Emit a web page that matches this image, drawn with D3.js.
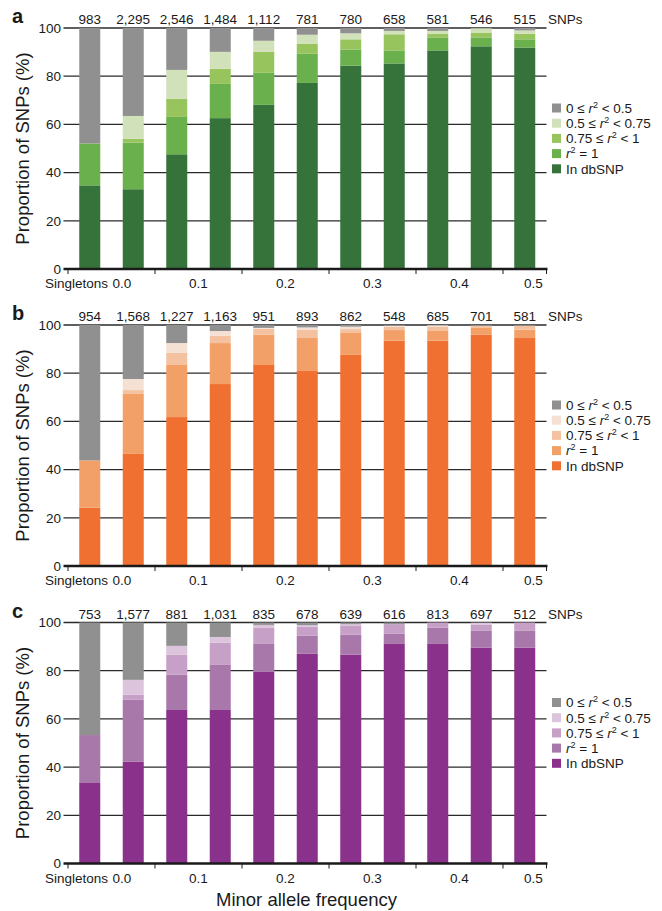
<!DOCTYPE html>
<html>
<head>
<meta charset="utf-8">
<script src="https://cdn.jsdelivr.net/npm/d3@7"></script>
<style>
  html, body { margin: 0; padding: 0; background: #fff; }
  text { font-family: "Liberation Sans", Arial, Helvetica, sans-serif; fill: #1a1a1a; }
</style>
</head>
<body>
<svg id="chart" width="662" height="911"></svg>
<script>
// ---------------- data ----------------
const categories = ["Singletons", "0.00-0.05", "0.05-0.10", "0.10-0.15", "0.15-0.20", "0.20-0.25",
                    "0.25-0.30", "0.30-0.35", "0.35-0.40", "0.40-0.45", "0.45-0.50"];
const seriesKeys = ["dbsnp", "r1", "r75", "r50", "r0"]; // bottom -> top
const legendLabels = [
  ["0 ≤ ", "r", "2", " < 0.5"],
  ["0.5 ≤ ", "r", "2", " < 0.75"],
  ["0.75 ≤ ", "r", "2", " < 1"],
  ["", "r", "2", " = 1"],
  ["In dbSNP", "", "", ""]
];
const xTickLabels = ["0.0", "0.1", "0.2", "0.3", "0.4", "0.5"];
const xTickValues = [0, 0.1, 0.2, 0.3, 0.4, 0.5];
const xMinorTicks = [-0.05, 0.05, 0.15, 0.25, 0.35, 0.45, 0.5];
const yTicks = [0, 20, 40, 60, 80, 100];

// Panel a
const countsA = ["983", "2,295", "2,546", "1,484", "1,112", "781", "780", "658", "581", "546", "515"];
const dbsnpA = [34.7, 33.1, 47.6, 62.6, 68.1, 77.2, 84.4, 85.3, 90.7, 92.4, 91.9];
const r1A    = [17.4, 19.3, 15.5, 14.2, 13.3, 12.1, 6.7, 5.4, 5.4, 3.7, 3.4];
const r75A   = [0, 1.6, 7.5, 6.3, 8.7, 4.2, 4.2, 6.7, 1.4, 2.0, 2.3];
const r50A   = [0, 9.5, 12.0, 7.0, 4.6, 3.7, 2.5, 1.4, 1.3, 1.8, 1.4];
const r0A    = [47.9, 36.5, 17.4, 9.9, 5.3, 2.8, 2.2, 1.2, 1.2, 0.1, 1.0];

// Panel b
const countsB = ["954", "1,568", "1,227", "1,163", "951", "893", "862", "548", "685", "701", "581"];
const dbsnpB = [24.2, 46.5, 61.8, 75.5, 83.4, 80.9, 87.6, 93.5, 93.5, 96.0, 94.6];
const r1B    = [19.6, 24.9, 21.6, 17.0, 12.6, 13.7, 9.1, 4.4, 4.0, 3.0, 3.5];
const r75B   = [0, 1.6, 5.0, 3.1, 2.5, 3.5, 1.6, 1.3, 1.7, 0.6, 1.6];
const r50B   = [0, 4.6, 4.1, 1.9, 0.3, 0.9, 1.0, 0.5, 0.7, 0, 0];
const r0B    = [56.2, 22.4, 7.5, 2.5, 1.2, 1.0, 0.7, 0.3, 0.1, 0.4, 0.3];

// Panel c
const countsC = ["753", "1,577", "881", "1,031", "835", "678", "639", "616", "813", "697", "512"];
const dbsnpC = [33.4, 42.2, 63.7, 63.7, 79.5, 87.0, 86.6, 91.1, 91.1, 89.5, 89.5];
const r1C    = [19.9, 25.7, 14.6, 18.7, 11.6, 7.6, 8.3, 4.2, 6.7, 7.2, 7.2];
const r75C   = [0, 2.2, 8.3, 9.2, 6.7, 3.6, 3.9, 4.0, 2.2, 2.3, 3.3];
const r50C   = [0, 6.1, 3.7, 2.4, 1.2, 0.7, 0.5, 0, 0, 0.9, 0];
const r0C    = [46.7, 23.8, 9.7, 6.0, 1.0, 1.1, 0.7, 0.7, 0, 0.1, 0];

const colorsA = ["#35733a", "#6ab04c", "#98c45e", "#d1e1b9", "#8f908f"];
const colorsB = ["#f07032", "#f2a067", "#f4c2a0", "#f5e1d4", "#8f908f"];
const colorsC = ["#8a318c", "#a978aa", "#c6a0c7", "#dcc5dc", "#8f908f"];

const panels = [
  { letter: "a", counts: countsA, series: [dbsnpA, r1A, r75A, r50A, r0A], colors: colorsA },
  { letter: "b", counts: countsB, series: [dbsnpB, r1B, r75B, r50B, r0B], colors: colorsB },
  { letter: "c", counts: countsC, series: [dbsnpC, r1C, r75C, r50C, r0C], colors: colorsC }
];

// ---------------- layout ----------------
const svg = d3.select("#chart");
svg.append("rect").attr("width", 662).attr("height", 911).attr("fill", "#fff");

const plotLeft = 68, plotRight = 546.5, gridLeft = 63.5, plotH = 241;
const panelTops = [28, 325, 622.5];

const xBand = d3.scaleBand().domain(categories).range([plotLeft, plotRight])
  .paddingInner(0.517).paddingOuter(0.2585);
const xMaf = d3.scaleLinear().domain([-0.05, 0.5]).range([plotLeft, plotRight]);

panels.forEach((p, pi) => {
  const top = panelTops[pi];
  const g = svg.append("g").attr("transform", `translate(0,${top})`);
  const y = d3.scaleLinear().domain([0, 100]).range([plotH, 0]);

  // gridlines
  g.append("g").selectAll("line").data(yTicks.filter(d => d > 0)).join("line")
    .attr("x1", gridLeft).attr("x2", plotRight)
    .attr("y1", d => y(d)).attr("y2", d => y(d))
    .attr("stroke", "#2a2a2a").attr("stroke-width", 1.3);

  // y labels
  g.append("g").selectAll("text").data(yTicks).join("text")
    .attr("x", 61).attr("y", d => y(d)).attr("dy", "0.36em")
    .attr("text-anchor", "end").attr("font-size", 13.5).text(d => d);

  // stacked bars
  const rows = categories.map((c, i) => {
    const o = { cat: c };
    seriesKeys.forEach((k, si) => o[k] = p.series[si][i]);
    return o;
  });
  const stacked = d3.stack().keys(seriesKeys)(rows);
  g.append("g").selectAll("g").data(stacked).join("g")
    .attr("fill", (d, i) => p.colors[i])
    .selectAll("rect").data(d => d).join("rect")
    .attr("x", d => xBand(d.data.cat))
    .attr("width", xBand.bandwidth())
    .attr("y", d => y(d[1]))
    .attr("height", d => Math.max(0, y(d[0]) - y(d[1])));

  // x axis line
  g.append("line").attr("x1", gridLeft).attr("x2", plotRight + 1)
    .attr("y1", y(0)).attr("y2", y(0))
    .attr("stroke", "#1a1a1a").attr("stroke-width", 2.6);
  g.append("g").selectAll("line").data(xMinorTicks).join("line")
    .attr("x1", d => xMaf(d)).attr("x2", d => xMaf(d))
    .attr("y1", y(0)).attr("y2", y(0) + 5)
    .attr("stroke", "#1a1a1a").attr("stroke-width", 1);

  // x labels
  const labelY = y(0) + 19;
  g.append("text").attr("x", 108).attr("y", labelY).attr("text-anchor", "end")
    .attr("font-size", 13.5).text(categories[0]);
  g.append("g").selectAll("text").data(xTickValues).join("text")
    .attr("x", (d, i) => xMaf(d) + (i === 0 ? 10.5 : (i === xTickValues.length - 1 ? -13 : 0)))
    .attr("y", labelY).attr("text-anchor", "middle").attr("font-size", 13.5)
    .text((d, i) => xTickLabels[i]);

  // counts
  g.append("g").selectAll("text").data(categories).join("text")
    .attr("x", d => xBand(d) + xBand.bandwidth() / 2)
    .attr("y", -4).attr("text-anchor", "middle").attr("font-size", 13.5)
    .text((d, i) => p.counts[i]);
  g.append("text").attr("x", 548).attr("y", -4).attr("font-size", 13.5).text("SNPs");

  // panel letter
  g.append("text").attr("x", 12).attr("y", -5).attr("font-size", 20)
    .attr("font-weight", "bold").text(p.letter);

  // y title
  g.append("text").attr("transform", `translate(29,${plotH / 2}) rotate(-90)`)
    .attr("text-anchor", "middle").attr("font-size", 18.5).text("Proportion of SNPs (%)");

  // legend (top to bottom: r0, r50, r75, r1, dbsnp)
  const legOrder = [4, 3, 2, 1, 0];
  const leg = g.append("g").attr("transform", "translate(552,80)");
  legOrder.forEach((si, row) => {
    const ly = row * 15.2;
    leg.append("rect").attr("x", 0).attr("y", ly - 4.5).attr("width", 9).attr("height", 9)
      .attr("fill", p.colors[si]);
    const parts = legendLabels[row];
    const t = leg.append("text").attr("x", 14).attr("y", ly).attr("dy", "0.36em").attr("font-size", 13.5);
    if (parts[0]) t.append("tspan").text(parts[0]);
    if (parts[1]) t.append("tspan").attr("font-style", "italic").text(parts[1]);
    if (parts[2]) t.append("tspan").attr("font-size", 9).attr("dy", -5).text(parts[2]);
    if (parts[3]) t.append("tspan").attr("dy", parts[2] ? 5 : 0).text(parts[3]);
  });
});

// x title
svg.append("text").attr("x", 306.5).attr("y", 906).attr("text-anchor", "middle")
  .attr("font-size", 18.5).text("Minor allele frequency");
</script>
</body>
</html>
